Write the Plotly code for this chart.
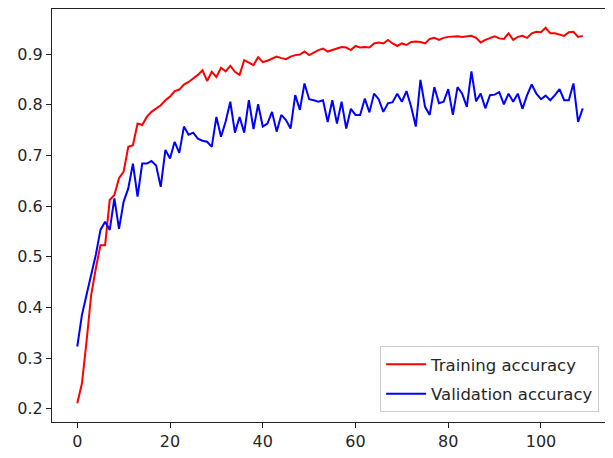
import plotly.graph_objects as go

epochs = list(range(110))

training_accuracy = [
    0.211, 0.250, 0.333, 0.425, 0.477, 0.523, 0.523, 0.612, 0.622, 0.655,
    0.668, 0.717, 0.720, 0.763, 0.760, 0.776, 0.786, 0.793, 0.799, 0.809,
    0.816, 0.827, 0.830, 0.840, 0.845, 0.852, 0.859, 0.868, 0.847, 0.865,
    0.855, 0.873, 0.866, 0.877, 0.865, 0.859, 0.888, 0.883, 0.878, 0.894,
    0.884, 0.887, 0.891, 0.895, 0.892, 0.890, 0.895, 0.898, 0.899, 0.905,
    0.898, 0.903, 0.908, 0.911, 0.905, 0.908, 0.911, 0.914, 0.913, 0.908,
    0.916, 0.913, 0.914, 0.913, 0.921, 0.923, 0.921, 0.928, 0.921, 0.916,
    0.921, 0.918, 0.924, 0.925, 0.924, 0.921, 0.930, 0.932, 0.928, 0.932,
    0.934, 0.935, 0.935, 0.934, 0.935, 0.936, 0.932, 0.923, 0.928, 0.932,
    0.935, 0.931, 0.930, 0.941, 0.928, 0.934, 0.936, 0.932, 0.941, 0.944,
    0.943, 0.952, 0.941, 0.941, 0.939, 0.936, 0.943, 0.944, 0.934, 0.936,
]

validation_accuracy = [
    0.323, 0.385, 0.425, 0.464, 0.504, 0.553, 0.569, 0.553, 0.615, 0.555,
    0.609, 0.635, 0.684, 0.619, 0.684, 0.684, 0.689, 0.680, 0.638, 0.711,
    0.694, 0.727, 0.705, 0.757, 0.741, 0.745, 0.733, 0.729, 0.727, 0.717,
    0.776, 0.737, 0.767, 0.806, 0.745, 0.776, 0.745, 0.809, 0.752, 0.801,
    0.757, 0.763, 0.786, 0.747, 0.780, 0.770, 0.753, 0.819, 0.790, 0.842,
    0.811, 0.809, 0.806, 0.809, 0.766, 0.809, 0.763, 0.806, 0.753, 0.792,
    0.780, 0.780, 0.812, 0.785, 0.822, 0.811, 0.786, 0.803, 0.805, 0.822,
    0.806, 0.827, 0.796, 0.757, 0.849, 0.796, 0.780, 0.835, 0.803, 0.806,
    0.831, 0.780, 0.835, 0.822, 0.796, 0.866, 0.807, 0.822, 0.793, 0.819,
    0.820, 0.825, 0.801, 0.822, 0.806, 0.822, 0.792, 0.819, 0.840, 0.822,
    0.811, 0.818, 0.809, 0.819, 0.831, 0.809, 0.809, 0.842, 0.766, 0.793,
]

x_ticks = [0, 20, 40, 60, 80, 100]
y_ticks = [0.2, 0.3, 0.4, 0.5, 0.6, 0.7, 0.8, 0.9]

fig = go.Figure()
fig.add_trace(go.Scatter(x=epochs, y=training_accuracy, mode="lines",
                         name="Training accuracy", legendgroup="a",
                         line=dict(color="#ff0000", width=2)))
fig.add_trace(go.Scatter(x=epochs, y=validation_accuracy, mode="lines",
                         name="Validation accuracy", legendgroup="b",
                         line=dict(color="#0000ff", width=2)))

font = dict(family="DejaVu Sans", size=16, color="#262626")
axis_common = dict(showline=True, mirror=True, linecolor="#222222", linewidth=1,
                   ticks="outside", ticklen=5, tickcolor="#222222", tickwidth=1,
                   showgrid=False, zeroline=False, tickfont=font)

fig.update_layout(
    width=605, height=450,
    margin=dict(l=44, r=5, t=1, b=36),
    paper_bgcolor="white", plot_bgcolor="white",
    font=font,
    xaxis=dict(range=[-5.45, 114.45], tickvals=x_ticks, **axis_common),
    yaxis=dict(range=[0.174, 0.989], tickvals=y_ticks, tickformat=".1f", **axis_common),
    legend=dict(x=0.984, y=0.024, xanchor="right", yanchor="bottom",
                bgcolor="rgba(255,255,255,0.8)", bordercolor="#cccccc", borderwidth=1,
                font=dict(family="DejaVu Sans", size=16.5, color="#262626"),
                tracegroupgap=5, itemwidth=40),
    showlegend=True,
)

fig.write_html("out.html")
